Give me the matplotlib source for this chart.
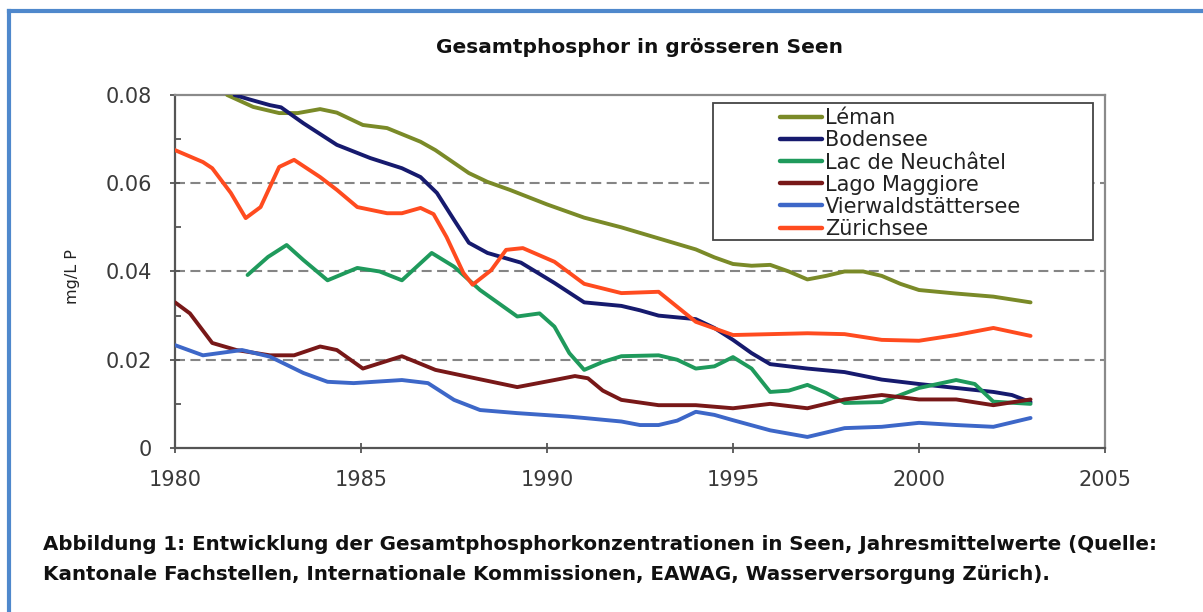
import matplotlib
matplotlib.use("Agg")
import matplotlib.pyplot as plt
from matplotlib.lines import Line2D
from matplotlib.patches import Rectangle
from matplotlib.ticker import MultipleLocator

plt.rcParams['font.family'] = ['DejaVu Sans']

# data (year, mg/L P)
leman_x = [1981.4, 1982.1, 1982.8, 1983.3, 1983.9, 1984.35, 1985.05, 1985.7, 1986.6, 1987.0,
           1987.9, 1988.4, 1989, 1990, 1991, 1992, 1993, 1994, 1994.5, 1995, 1995.5, 1996,
           1996.5, 1997, 1997.5, 1998, 1998.5, 1999, 1999.5, 2000, 2001, 2002, 2003]
leman_y = [0.080, 0.0773, 0.0759, 0.0759, 0.0768, 0.0760, 0.0732, 0.0725, 0.0694, 0.0675,
           0.0623, 0.0603, 0.0585, 0.0552, 0.0522, 0.0500, 0.0475, 0.0450, 0.0432, 0.0417, 0.0413, 0.0415,
           0.0400, 0.0382, 0.0390, 0.0400, 0.0400, 0.0390, 0.0372, 0.0358, 0.0350, 0.0343, 0.0330]

boden_x = [1981.6, 1982.0, 1982.55, 1982.85, 1983.45, 1984.35, 1985.25, 1986.1, 1986.6, 1987.04,
           1987.5, 1987.9, 1988.4, 1989.3, 1990.2, 1991, 1992, 1992.5, 1993, 1993.5, 1994, 1994.5, 1995,
           1995.5, 1996, 1997, 1998, 1999, 2000, 2001, 2002, 2002.5, 2003]
boden_y = [0.080, 0.0790, 0.0777, 0.0772, 0.0736, 0.0687, 0.0657, 0.0634, 0.0614, 0.0578,
           0.0517, 0.0465, 0.0442, 0.0420, 0.0374, 0.0330, 0.0322, 0.0312, 0.0300, 0.0296, 0.0292, 0.0272, 0.0245,
           0.0215, 0.0190, 0.0180, 0.0172, 0.0155, 0.0145, 0.0136, 0.0127, 0.0120, 0.0104]

neuch_x = [1981.95, 1982.5, 1983.0, 1983.45, 1984.1, 1984.9, 1985.5, 1986.1, 1986.9, 1987.5,
           1988.2, 1989.2, 1989.8, 1990.2, 1990.6, 1991, 1991.5, 1992, 1993, 1993.5, 1994, 1994.5, 1995,
           1995.5, 1996, 1996.5, 1997, 1997.5, 1998, 1999, 2000, 2001, 2001.5, 2002, 2003]
neuch_y = [0.0392, 0.0433, 0.0460, 0.0426, 0.0380, 0.0408, 0.0400, 0.0380, 0.0442, 0.0411,
           0.0358, 0.0298, 0.0305, 0.0275, 0.0215, 0.0177, 0.0195, 0.0208, 0.0210, 0.0200, 0.0180, 0.0185, 0.0206,
           0.0180, 0.0127, 0.0130, 0.0143, 0.0125, 0.0102, 0.0104, 0.0136, 0.0154, 0.0145, 0.0105, 0.0100]

maggi_x = [1980.0, 1980.4, 1981.0, 1981.65, 1982.55, 1983.2, 1983.9, 1984.35, 1985.05, 1986.1,
           1987.0, 1987.9, 1989.2, 1990.2, 1990.75, 1991.1, 1991.5, 1992, 1993, 1994, 1995, 1996,
           1997, 1998, 1999, 2000, 2001, 2002, 2003]
maggi_y = [0.0330, 0.0305, 0.0238, 0.0222, 0.0210, 0.0210, 0.0230, 0.0222, 0.0180, 0.0208,
           0.0177, 0.0161, 0.0138, 0.0154, 0.0163, 0.0158, 0.0130, 0.0109, 0.0097, 0.0097, 0.0090, 0.0100,
           0.0090, 0.0110, 0.0120, 0.0110, 0.0110, 0.0097, 0.0110]

vierw_x = [1980.0, 1980.75, 1981.8, 1982.55, 1983.45, 1984.1, 1984.8, 1986.1, 1986.8, 1987.5,
           1988.2, 1989.2, 1990.6, 1991, 1992, 1992.5, 1993, 1993.5, 1994, 1994.5, 1995, 1996,
           1997, 1998, 1999, 2000, 2001, 2002, 2003]
vierw_y = [0.0233, 0.0210, 0.0222, 0.0207, 0.0170, 0.0150, 0.0147, 0.0154, 0.0147, 0.0109,
           0.0086, 0.0079, 0.0071, 0.0068, 0.0060, 0.0052, 0.0052, 0.0062, 0.0082, 0.0075, 0.0063, 0.0040,
           0.0025, 0.0045, 0.0048, 0.0057, 0.0052, 0.0048, 0.0068]

zuri_x = [1980.0, 1980.75, 1981.0, 1981.5, 1981.9, 1982.3, 1982.8, 1983.2, 1983.9, 1984.35,
          1984.9, 1985.7, 1986.1, 1986.6, 1986.95, 1987.3, 1987.75, 1988.0, 1988.5, 1988.9,
          1989.35, 1990.2, 1990.6, 1991, 1992, 1993, 1993.5, 1994, 1995, 1996, 1997, 1998,
          1999, 2000, 2001, 2002, 2003]
zuri_y = [0.0675, 0.0648, 0.0634, 0.0578, 0.0521, 0.0546, 0.0637, 0.0653, 0.0614, 0.0585,
          0.0546, 0.0532, 0.0532, 0.0544, 0.0530, 0.0478, 0.0397, 0.0370, 0.0403, 0.0449,
          0.0453, 0.0422, 0.0397, 0.0372, 0.0351, 0.0354, 0.0320, 0.0286, 0.0256, 0.0258, 0.0260, 0.0258,
          0.0245, 0.0243, 0.0256, 0.0272, 0.0254]

names = ['Léman', 'Bodensee', 'Lac de Neuchâtel', 'Lago Maggiore', 'Vierwaldstättersee', 'Zürichsee']
colors = ['#7a8a28', '#161a6e', '#1f9a5c', '#781818', '#3d67c8', '#ff4b1f']
xs = [leman_x, boden_x, neuch_x, maggi_x, vierw_x, zuri_x]
ys = [leman_y, boden_y, neuch_y, maggi_y, vierw_y, zuri_y]

fig = plt.figure(figsize=(12.03, 6.12), dpi=100)
ax = fig.add_axes([0.1455, 0.268, 0.773, 0.5768])

for y in [0.02, 0.04, 0.06]:
    ax.axhline(y, color='#858585', lw=1.5, ls=(0, (4.8, 2.6)), zorder=1)

for x, y, c, n in zip(xs, ys, colors, names):
    ax.plot(x, y, color=c, lw=2.8, label=n, solid_capstyle='round', zorder=3)

ax.set_xlim(1980, 2005)
ax.set_ylim(0, 0.08)
ax.xaxis.set_major_locator(MultipleLocator(5))
ax.yaxis.set_minor_locator(MultipleLocator(0.01))
ax.set_yticks([0, 0.02, 0.04, 0.06, 0.08])
ax.set_yticklabels(['0', '0.02', '0.04', '0.06', '0.08'])
ax.tick_params(axis='both', which='major', direction='inout', length=7, width=1.3,
               color='#555555', labelsize=15, labelcolor='#3a3a3a')
ax.tick_params(axis='x', pad=12)
ax.tick_params(axis='y', pad=13)
ax.tick_params(axis='y', which='minor', direction='in', length=4, width=1.3, color='#555555')
for s in ['left', 'bottom']:
    ax.spines[s].set_color('#555555')
    ax.spines[s].set_linewidth(1.6)
for s in ['top', 'right']:
    ax.spines[s].set_color('#8a8a8a')
    ax.spines[s].set_linewidth(1.6)

fig.text(72 / 1203, 1 - 277 / 612, 'mg/L P', rotation=90, ha='center', va='center',
         fontsize=11.5, color='#222222')

# legend box like the Excel one: wide frame, entries set to the right
ax.add_patch(Rectangle((0.5785, 0.5892), 0.4086, 0.3881, transform=ax.transAxes,
                       facecolor='white', edgecolor='#444444', lw=1.3, zorder=4))
leg = ax.legend(loc='upper left', bbox_to_anchor=(0.6505, 0.962), fontsize=15,
                handlelength=2.0, handletextpad=0.15, labelspacing=0.1,
                borderpad=0, frameon=False, borderaxespad=0)
leg.set_zorder(5)
for t in leg.get_texts():
    t.set_color('#222222')
for h in leg.get_lines():
    h.set_linewidth(3.2)

fig.text(0.532, 0.923, 'Gesamtphosphor in grösseren Seen', ha='center', va='center',
         fontsize=14.5, fontweight='bold', color='#111111')

fig.text(0.036, 1 - 544 / 612, 'Abbildung 1: Entwicklung der Gesamtphosphorkonzentrationen in Seen, '
         'Jahresmittelwerte (Quelle:', ha='left', va='center', fontsize=14.3,
         fontweight='bold', color='#111111')
fig.text(0.036, 1 - 575 / 612, 'Kantonale Fachstellen, Internationale Kommissionen, EAWAG, '
         'Wasserversorgung Zürich).', ha='left', va='center', fontsize=14.3,
         fontweight='bold', color='#111111')

# blue frame (top and left edges)
fig.add_artist(Line2D([0.0075, 1.0], [0.982, 0.982], transform=fig.transFigure,
                      color='#4f88cc', lw=3))
fig.add_artist(Line2D([0.0075, 0.0075], [0.0, 0.982], transform=fig.transFigure,
                      color='#4f88cc', lw=3))

fig.savefig('out.png', dpi=100)
